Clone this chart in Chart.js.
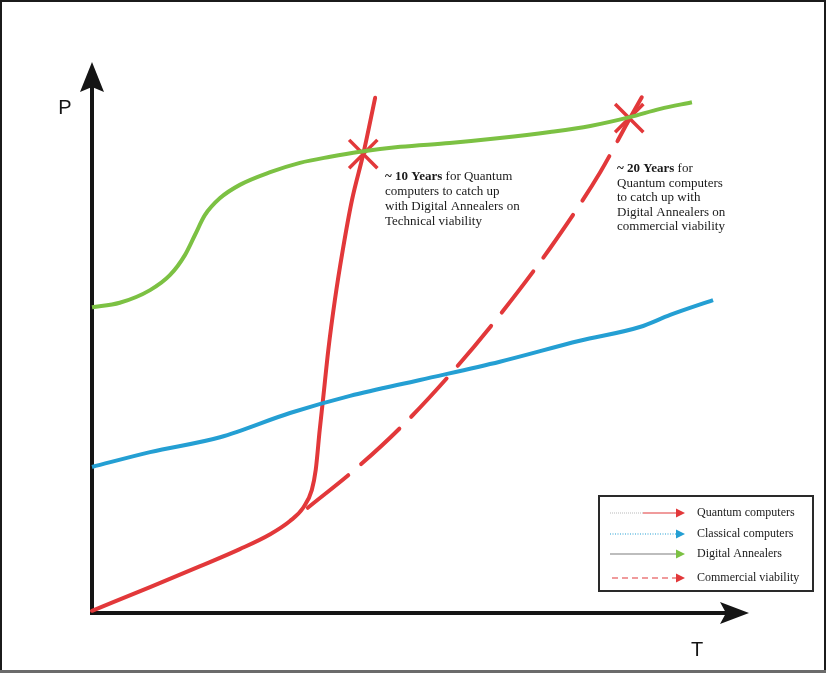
<!DOCTYPE html>
<html>
<head>
<meta charset="utf-8">
<script src="https://cdn.jsdelivr.net/npm/chart.js@4/dist/chart.umd.min.js"></script>
<style>
html,body{margin:0;padding:0;background:#fff;}
#c{display:block;}
</style>
</head>
<body>
<canvas id="c" width="826" height="673"></canvas>
<script>
// ---- data (T = time, P = performance, arbitrary units 0..10) ----
const quantumT   = [0, 0.88, 1.64, 2.24, 2.70, 3.00, 3.20, 3.33, 3.39, 3.45, 3.50, 3.58, 3.68, 3.80, 3.94, 4.11, 4.29];
const quantumP   = [0.04, 0.47, 0.85, 1.16, 1.43, 1.67, 1.91, 2.23, 2.60, 3.32, 3.87, 4.77, 5.68, 6.59, 7.50, 8.33, 9.35];
const classicalT = [0, 0.88, 1.94, 3.00, 3.91, 4.97, 6.18, 7.39, 8.30, 8.76, 9.41];
const classicalP = [2.65, 2.92, 3.19, 3.63, 3.94, 4.23, 4.56, 4.94, 5.19, 5.41, 5.68];
const annealerT  = [0, 0.42, 0.88, 1.18, 1.41, 1.56, 1.71, 1.94, 2.24, 2.70, 3.15, 3.61, 4.06, 4.67, 5.42, 6.18, 6.94, 7.55, 8.15, 8.61, 9.09];
const annealerP  = [5.55, 5.63, 5.86, 6.13, 6.50, 6.86, 7.22, 7.53, 7.77, 8.00, 8.17, 8.28, 8.37, 8.46, 8.53, 8.62, 8.73, 8.84, 9.00, 9.15, 9.27];
const commercialT = [3.27, 3.98, 4.67, 5.42, 6.18, 6.94, 7.70, 8.15, 8.33];
const commercialP = [1.91, 2.60, 3.36, 4.32, 5.41, 6.62, 8.00, 8.98, 9.36];
const crossingT = [4.11, 8.14];
const crossingP = [8.33, 8.98];

const seriesLabels = ["Quantum computers", "Classical computers", "Digital Annealers", "Commercial viability"];
const axisLabels = ["T", "P"];
const note1Bold = "~ 10 Years";
const note1Lines = [" for Quantum", "computers to catch up", "with Digital Annealers on", "Technical viability"];
const note2Bold = "~ 20 Years";
const note2Lines = [" for", "Quantum computers", "to catch up with", "Digital Annealers on", "commercial viability"];

const RED = "#e2383a", GREEN = "#7cc143", BLUE = "#249fd3";

const pts = (xs, ys) => xs.map((x, i) => ({x: x, y: ys[i]}));

function arrowHead(ctx, tipX, tipY, dir, len, half, notch) {
  ctx.beginPath();
  if (dir === 'up') {
    ctx.moveTo(tipX, tipY);
    ctx.lineTo(tipX + half, tipY + len);
    ctx.lineTo(tipX, tipY + len - notch);
    ctx.lineTo(tipX - half, tipY + len);
  } else {
    ctx.moveTo(tipX, tipY);
    ctx.lineTo(tipX - len, tipY - half);
    ctx.lineTo(tipX - len + notch, tipY);
    ctx.lineTo(tipX - len, tipY + half);
  }
  ctx.closePath();
  ctx.fill();
}

const decor = {
  id: 'decor',
  beforeDatasetsDraw(chart) {
    const ctx = chart.ctx;
    const xs = chart.scales.x, ys = chart.scales.y;
    const ox = xs.getPixelForValue(0), oy = ys.getPixelForValue(0);
    ctx.save();
    ctx.strokeStyle = "#151515";
    ctx.fillStyle = "#151515";
    ctx.lineWidth = 4;
    ctx.beginPath();
    ctx.moveTo(ox, oy + 2);
    ctx.lineTo(ox, ys.top + 20);
    ctx.moveTo(ox - 2, oy);
    ctx.lineTo(xs.right - 20, oy);
    ctx.stroke();
    arrowHead(ctx, ox, ys.top, 'up', 30, 12, 5);
    arrowHead(ctx, xs.right - 3, oy, 'right', 29, 11, 6);
    ctx.font = "20px 'Liberation Sans', Arial, sans-serif";
    ctx.textAlign = "center";
    ctx.textBaseline = "middle";
    ctx.fillText(axisLabels[1], ox - 27, ys.top + 46);
    ctx.fillText(axisLabels[0], xs.right - 55, oy + 37);
    ctx.restore();
  },
  afterDraw(chart) {
    const ctx = chart.ctx;
    const W = chart.width, H = chart.height;
    ctx.save();
    ctx.fillStyle = "#1b1b1b";
    ctx.fillRect(0, 0, W, 2);
    ctx.fillRect(0, 0, 2, H);
    ctx.fillRect(W - 2, 0, 2, H);
    ctx.fillStyle = "#6b6b6b";
    ctx.fillRect(0, H - 3, W, 3);

    const serif = "'Liberation Serif', 'Times New Roman', serif";
    function note(x, y, bold, lines, lh) {
      ctx.fillStyle = "#1a1a1a";
      ctx.textAlign = "left";
      ctx.textBaseline = "middle";
      ctx.font = "bold 13px " + serif;
      ctx.fillText(bold, x, y);
      const bw = ctx.measureText(bold).width;
      ctx.font = "13px " + serif;
      ctx.fillText(lines[0], x + bw, y);
      for (let i = 1; i < lines.length; i++) ctx.fillText(lines[i], x, y + i * lh);
    }
    note(385, 177, note1Bold, note1Lines, 15);
    note(617, 169, note2Bold, note2Lines, 14.5);

    const bx = 599, by = 496, bw = 214, bh = 95;
    ctx.strokeStyle = "#2a2a2a";
    ctx.lineWidth = 2;
    ctx.strokeRect(bx, by, bw, bh);
    const rows = [513, 534, 554, 578];
    const cols = [RED, BLUE, GREEN, RED];
    const x0 = 610, x1 = 677;
    rows.forEach((ry, i) => {
      ctx.save();
      ctx.lineWidth = 1.2;
      if (i === 0) {
        ctx.strokeStyle = "#b9b9b9"; ctx.setLineDash([1, 1]);
        ctx.beginPath(); ctx.moveTo(x0, ry); ctx.lineTo(x0 + 33, ry); ctx.stroke();
        ctx.setLineDash([]); ctx.strokeStyle = RED;
        ctx.beginPath(); ctx.moveTo(x0 + 33, ry); ctx.lineTo(x1, ry); ctx.stroke();
      } else if (i === 1) {
        ctx.strokeStyle = BLUE; ctx.setLineDash([1, 1.5]);
        ctx.beginPath(); ctx.moveTo(x0, ry); ctx.lineTo(x1, ry); ctx.stroke();
      } else if (i === 2) {
        ctx.strokeStyle = "#bdbdbd"; ctx.lineWidth = 1.8;
        ctx.beginPath(); ctx.moveTo(x0, ry); ctx.lineTo(x1, ry); ctx.stroke();
      } else {
        ctx.strokeStyle = RED; ctx.setLineDash([6, 4]);
        ctx.beginPath(); ctx.moveTo(x0 + 2, ry); ctx.lineTo(x1, ry); ctx.stroke();
      }
      ctx.restore();
      ctx.fillStyle = cols[i];
      ctx.beginPath();
      ctx.moveTo(685, ry);
      ctx.lineTo(676, ry - 4.5);
      ctx.lineTo(676, ry + 4.5);
      ctx.closePath();
      ctx.fill();
      ctx.fillStyle = "#1a1a1a";
      ctx.font = "12px " + serif;
      ctx.textAlign = "left";
      ctx.textBaseline = "middle";
      ctx.fillText(seriesLabels[i], 697, ry);
    });
    ctx.restore();
  }
};

const lineBase = {
  showLine: true,
  pointRadius: 0,
  borderWidth: 4,
  fill: false,
  cubicInterpolationMode: 'monotone',
  clip: false
};

new Chart(document.getElementById('c'), {
  type: 'scatter',
  data: {
    datasets: [
      Object.assign({}, lineBase, {label: seriesLabels[2], data: pts(annealerT, annealerP), borderColor: GREEN}),
      Object.assign({}, lineBase, {label: seriesLabels[1], data: pts(classicalT, classicalP), borderColor: BLUE}),
      Object.assign({}, lineBase, {label: seriesLabels[3], data: pts(commercialT, commercialP), borderColor: RED, borderDash: [52, 17], borderCapStyle: 'round'}),
      Object.assign({}, lineBase, {label: seriesLabels[0], data: pts(quantumT, quantumP), borderColor: RED, borderCapStyle: 'round'}),
      {label: 'crossings', data: pts(crossingT, crossingP), showLine: false, pointStyle: 'crossRot',
       pointRadius: 20, pointBorderWidth: 3.5, pointBorderColor: RED, borderColor: RED, backgroundColor: RED, clip: false}
    ]
  },
  options: {
    responsive: false,
    animation: false,
    devicePixelRatio: 1,
    layout: {padding: {left: 92, right: 74, top: 62, bottom: 60}},
    plugins: {legend: {display: false}, tooltip: {enabled: false}},
    scales: {
      x: {type: 'linear', min: 0, max: 10, display: false},
      y: {type: 'linear', min: 0, max: 10, display: false}
    }
  },
  plugins: [decor]
});
</script>
</body>
</html>
